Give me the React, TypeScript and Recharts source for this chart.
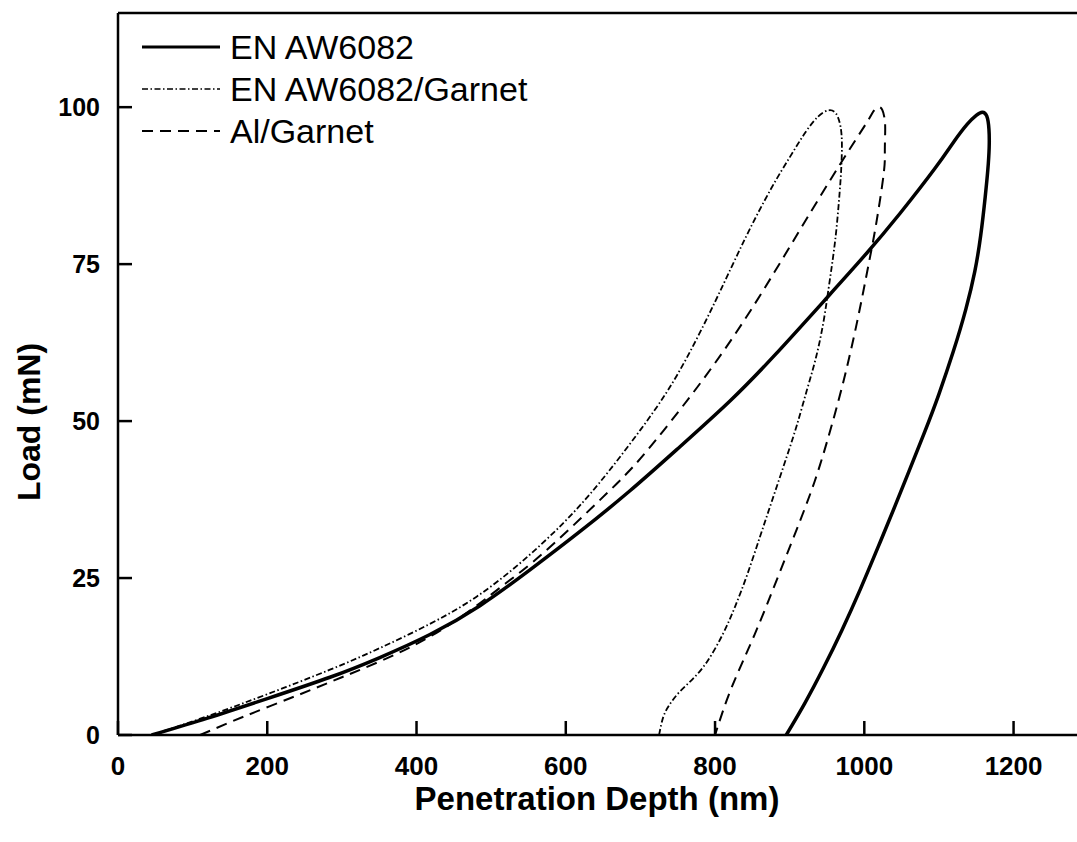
import React from 'react';
import { LineChart, Line, XAxis, YAxis, ReferenceLine, Legend, Label } from 'recharts';

// Nanoindentation load–unload curves.
const alloyDepth = [45, 120, 200, 284, 350, 418, 485, 552, 620, 686, 750, 820, 880, 945, 1000, 1048, 1095, 1120, 1138, 1150, 1158, 1164, 1167, 1167.3, 1165.5, 1162, 1156, 1148, 1136, 1119, 1100, 1080, 1041.6, 1018, 994.6, 970, 945.4, 920, 895.4];
const alloyLoad = [0, 2.7, 5.8, 9.2, 12.3, 16.0, 20.6, 26.3, 32.5, 38.9, 45.6, 53.2, 60.5, 69.0, 76.3, 83.1, 90.3, 94.5, 97.3, 98.7, 99.2, 98.6, 96.5, 93.5, 90, 85.7, 79.6, 73.8, 67.8, 61.0, 54.3, 48.0, 36.6, 29.8, 23.2, 16.7, 10.7, 5.0, 0];

const alloyGarnetDepth = [45, 120, 200, 284, 350, 418, 480, 540, 597, 646, 700, 750, 800, 840, 875, 900, 920, 938, 952, 962, 968, 970, 969, 967, 963, 958, 952, 945, 935, 923, 910, 896, 876, 860, 843, 827, 811, 790, 770, 752, 740, 731, 725];
const alloyGarnetLoad = [0, 3.0, 6.5, 10.4, 13.8, 17.7, 22.0, 27.5, 33.8, 40.3, 48.6, 57.5, 69, 79, 87, 92, 95.8, 98.5, 99.5, 99.0, 97, 94, 90, 86.5, 81, 76, 71, 65.6, 60, 54.9, 49.5, 44.3, 37.2, 31.5, 25.5, 20.5, 16.2, 11.8, 8.9, 6.8, 5.0, 3.0, 0];

const alGarnetDepth = [110, 170, 240, 300, 360, 420, 476, 520, 570, 642, 690, 731, 785, 847, 914, 968, 1003, 1012, 1018, 1024, 1027, 1028, 1027.5, 1026, 1016, 1006, 990, 969, 944, 921, 887, 853, 822, 800];
const alGarnetLoad = [0, 3.0, 6.3, 9.2, 12.2, 15.8, 20.2, 24.2, 29.0, 37.0, 42.7, 48.5, 56.8, 67.5, 80.5, 91, 97.5, 99.3, 100, 99.6, 98.3, 96.5, 93, 89.4, 81.5, 75.1, 65.6, 54.9, 44.3, 36.3, 26.0, 16.0, 7.5, 0];

const seriesNames = ['EN AW6082', 'EN AW6082/Garnet', 'Al/Garnet'];
const xTicks = [0, 200, 400, 600, 800, 1000, 1200];
const yTicks = [0, 25, 50, 75, 100];

const FONT = '"Liberation Sans", Arial, Helvetica, sans-serif';

const pair = (xs: number[], ys: number[]) => xs.map((x, i) => ({ depth: x, load: ys[i] }));

const SERIES = [
  { name: seriesNames[0], data: pair(alloyDepth, alloyLoad), width: 3.5, dash: undefined as string | undefined, legendWidth: 3 },
  { name: seriesNames[1], data: pair(alloyGarnetDepth, alloyGarnetLoad), width: 1.8, dash: '6 2.5 1.5 2.5', legendWidth: 1.5 },
  { name: seriesNames[2], data: pair(alGarnetDepth, alGarnetLoad), width: 2, dash: '11 7', legendWidth: 2 },
];

function XTick({ x, y, payload }: any) {
  return (
    <g>
      <line x1={x} x2={x} y1={y} y2={y - 14} stroke="#000" strokeWidth={2.5} />
      <text x={x} y={y + 40} textAnchor="middle" fontFamily={FONT} fontWeight="bold" fontSize={26} fill="#000">
        {payload.value}
      </text>
    </g>
  );
}

function YTick({ x, y, payload }: any) {
  return (
    <g>
      <line x1={x} x2={x + 14} y1={y} y2={y} stroke="#000" strokeWidth={2.5} />
      <text x={x - 18} y={y + 9} textAnchor="end" fontFamily={FONT} fontWeight="bold" fontSize={25} fill="#000">
        {payload.value}
      </text>
    </g>
  );
}

function LegendBox() {
  return (
    <div style={{ fontFamily: FONT, fontSize: 34, color: '#000' }}>
      {SERIES.map((s) => (
        <div key={s.name} style={{ display: 'flex', alignItems: 'center', height: 42 }}>
          <svg width={80} height={42} style={{ display: 'block' }}>
            <line x1={0} x2={78} y1={21} y2={21} stroke="#000" strokeWidth={s.legendWidth} strokeDasharray={s.dash} />
          </svg>
          <span style={{ marginLeft: 8, whiteSpace: 'nowrap' }}>{s.name}</span>
        </div>
      ))}
    </div>
  );
}

export default function App() {
  return (
    <div style={{ position: 'absolute', left: 0, top: 0, width: 1077, height: 842, background: '#fff' }}>
      <LineChart width={1077} height={842} margin={{ top: 13, right: 0, bottom: 0, left: 0 }}>
        <XAxis
          type="number"
          dataKey="depth"
          domain={[0, 1285]}
          ticks={xTicks}
          interval={0}
          allowDataOverflow
          height={107}
          tickSize={0}
          tickMargin={0}
          tickLine={false}
          tick={<XTick />}
          axisLine={{ stroke: '#000', strokeWidth: 2.5 }}
        >
          <Label
            content={() => (
              <text x={597} y={810} textAnchor="middle" fontFamily={FONT} fontWeight="bold" fontSize={33} fill="#000">
                Penetration Depth (nm)
              </text>
            )}
          />
        </XAxis>
        <YAxis
          type="number"
          dataKey="load"
          domain={[0, 115]}
          ticks={yTicks}
          interval={0}
          allowDataOverflow
          width={118}
          tickSize={0}
          tickMargin={0}
          tickLine={false}
          tick={<YTick />}
          axisLine={{ stroke: '#000', strokeWidth: 2.5 }}
        >
          <Label
            content={() => (
              <text
                x={40}
                y={422}
                transform="rotate(-90 40 422)"
                textAnchor="middle"
                fontFamily={FONT}
                fontWeight="bold"
                fontSize={32}
                fill="#000"
              >
                Load (mN)
              </text>
            )}
          />
        </YAxis>
        <ReferenceLine y={115} stroke="#000" strokeWidth={2.5} />
        {SERIES.map((s) => (
          <Line
            key={s.name}
            name={s.name}
            data={s.data}
            dataKey="load"
            type="natural"
            stroke="#000"
            strokeWidth={s.width}
            strokeDasharray={s.dash}
            dot={false}
            activeDot={false}
            isAnimationActive={false}
          />
        ))}
        <Legend
          layout="vertical"
          align="center"
          verticalAlign="middle"
          content={<LegendBox />}
          wrapperStyle={{ left: 142, top: 26, width: 'auto', height: 'auto' }}
        />
      </LineChart>
    </div>
  );
}
